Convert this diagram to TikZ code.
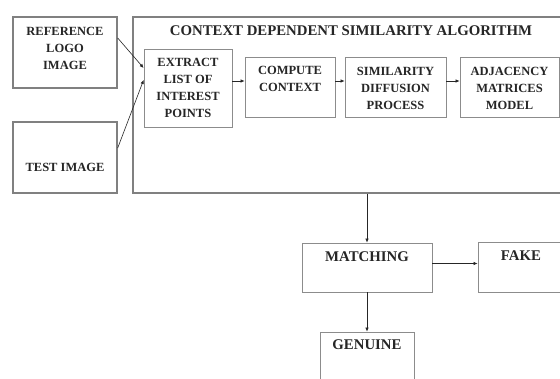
\documentclass[tikz,border=0pt]{standalone}
\usepackage{fontspec}
\setmainfont{Liberation Serif}
\usepackage{tikz}
\usetikzlibrary{positioning,
        arrows.meta}

\newcommand{\inbox}{\fontsize{12.5}{17}\selectfont\bfseries}
\newcommand{\outbox}{\fontsize{14.8}{17}\selectfont\bfseries}

\begin{document}
\begin{tikzpicture}[x=1pt,y=-1pt,
        outer/.style={draw=black!50,line width=1.4pt,inner sep=0pt},
        box/.style={draw=black!45,line width=0.8pt,inner sep=0pt},
        boxtext/.style={font=\inbox,align=center,text=black!85,inner sep=0pt},
        restext/.style={font=\outbox,align=center,text=black!85,inner sep=0pt},
        arr/.style={-{Latex[length=4pt,width=3.5pt]},black!85,line width=0.6pt}]
        \clip (0,0) rectangle (560,379);
        \fill [white] (0,0) rectangle (560,379);

        \node [outer,minimum width=467,minimum height=176] (algo) at (366.5,105) {};
        \node [restext] (title) at (351,31) {CONTEXT DEPENDENT SIMILARITY ALGORITHM};

        \node [outer,minimum width=104,minimum height=71,
               label={[boxtext,below=11pt]north:REFERENCE\\LOGO\\IMAGE}] (ref) at (65,52.5) {};
        \node [outer,minimum width=104,minimum height=71,
               label={[boxtext,above=22pt]south:TEST IMAGE}] (test) at (65,157.5) {};

        \node [box,minimum width=88,minimum height=78,
               label={[boxtext,below=9pt]north:EXTRACT\\LIST OF\\INTEREST\\POINTS}] (extract) at (188,88) {};
        \node [box,minimum width=90,minimum height=60,
               label={[boxtext,below=9pt]north:COMPUTE\\CONTEXT}] (compute) at (290,87) {};
        \node [box,minimum width=101,minimum height=60,
               label={[boxtext,below=10pt]north:SIMILARITY\\DIFFUSION\\PROCESS}] (diffusion) at (395.5,87) {};
        \node [box,minimum width=99,minimum height=60,
               label={[boxtext,below=10pt]north:ADJACENCY\\MATRICES\\MODEL}] (adjacency) at (509.5,87) {};

        \node [box,minimum width=130,minimum height=49,
               label={[restext,below=9pt]north:MATCHING}] (matching) at (367,267.5) {};
        \node [box,minimum width=86,minimum height=50,
               label={[restext,below=8.5pt]north:FAKE}] (fake) at (521,267) {};
        \node [box,minimum width=94,minimum height=68,
               label={[restext,below=7.5pt]north:GENUINE}] (genuine) at (367,366) {};

        \draw [arr] ([yshift=14.5pt]ref.east) -- ([yshift=20pt]extract.west);
        \draw [arr] ([yshift=9.5pt]test.east) -- ([yshift=8pt]extract.west);
        \draw [arr] ([yshift=7pt]extract.east) -- ([yshift=7pt]extract.east -| compute.west);
        \draw [arr] ([yshift=6pt]compute.east) -- ([yshift=6pt]diffusion.west);
        \draw [arr] ([yshift=6pt]diffusion.east) -- ([yshift=6pt]adjacency.west);
        \draw [arr] (matching.north |- algo.south) -- (matching.north);
        \draw [arr] ([yshift=4pt]matching.east) -- ([yshift=4pt]matching.east -| fake.west);
        \draw [arr] (matching.south) -- (genuine.north);
\end{tikzpicture}
\end{document}
